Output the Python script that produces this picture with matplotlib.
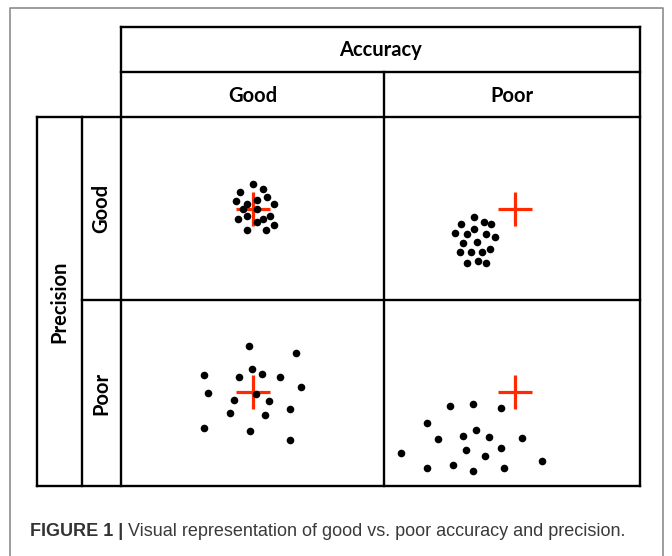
import matplotlib.pyplot as plt
from matplotlib import font_manager

# dot offsets (px) from the target centre, one set per cell
gg_dx = [0, 10, -13, 14, -17, -6, 4, 21, -10, 4, -6, -15, 17, 10, 4, 21, -6, 13]
gg_dy = [-25, -20, -17, -12, -8, -5, -9, -5, 0, 0, 7, 10, 7, 10, 13, 16, 21, 21]

gp_dx = [-41, -54, -31, -24, -60, -48, -41, -29, -20, -52, -38, -55, -44, -33, -25, -48, -37, -29]
gp_dy = [8, 15, 13, 15, 24, 25, 20, 25, 28, 34, 33, 43, 43, 43, 40, 54, 52, 54]

pg_dx = [-4, 43, -49, -14, -1, 9, 27, 48, -45, 3, -19, 16, -23, 12, 37, -49, -3, 37]
pg_dy = [-46, -39, -17, -15, -23, -18, -15, -5, 1, 2, 8, 9, 21, 23, 17, 36, 39, 48]

pp_dx = [-65, -42, -14, -88, -77, -52, -39, -26, 7, -114, -49, -14, -30, 27, -88, -62, -42, -11]
pp_dy = [14, 12, 16, 31, 47, 44, 38, 45, 46, 61, 58, 56, 64, 69, 76, 73, 79, 76]

col_labels = ['Good', 'Poor']
row_labels = ['Good', 'Poor']
caption_bold = 'FIGURE 1 |'
caption_rest = ' Visual representation of good vs. poor accuracy and precision.'

names = [f.name for f in font_manager.fontManager.ttflist]
cap_font = 'Liberation Sans Narrow' if 'Liberation Sans Narrow' in names else 'Liberation Sans'

fig = plt.figure(figsize=(6.72, 5.56), dpi=100)
ax = fig.add_axes([0, 0, 1, 1])
ax.set_xlim(0, 672)
ax.set_ylim(556, 0)
ax.axis('off')

# outer grey frame
ax.plot([10, 10, 663, 663], [560, 8, 8, 560], color='#8c8c8c', lw=1.2)

# table grid
lw = 1.7
k = 'black'
x0, x1, x2, xm, xr = 37, 82, 121, 384, 640
y0, y1, y2, ym, yb = 27, 72, 117, 300, 486
ax.plot([x2, xr], [y0, y0], color=k, lw=lw)
ax.plot([x2, xr], [y1, y1], color=k, lw=lw)
ax.plot([x0, xr], [y2, y2], color=k, lw=lw)
ax.plot([x1, xr], [ym, ym], color=k, lw=lw)
ax.plot([x0, xr], [yb, yb], color=k, lw=lw)
ax.plot([x0, x0], [y2, yb], color=k, lw=lw)
ax.plot([x1, x1], [y2, yb], color=k, lw=lw)
ax.plot([x2, x2], [y0, yb], color=k, lw=lw)
ax.plot([xm, xm], [y1, yb], color=k, lw=lw)
ax.plot([xr, xr], [y0, yb], color=k, lw=lw)

hfont = dict(family='Lato', weight='bold', fontsize=14.5, ha='center', va='center')
ax.text((x2 + xr) / 2, (y0 + y1) / 2 + 1, 'Accuracy', **hfont)
ax.text((x2 + xm) / 2, (y1 + y2) / 2 + 1, col_labels[0], **hfont)
ax.text((xm + xr) / 2, (y1 + y2) / 2 + 1, col_labels[1], **hfont)
ax.text((x0 + x1) / 2, (y2 + yb) / 2, 'Precision', rotation=90, **hfont)
ax.text((x1 + x2) / 2, (y2 + ym) / 2, row_labels[0], rotation=90, **hfont)
ax.text((x1 + x2) / 2, (ym + yb) / 2, row_labels[1], rotation=90, **hfont)

# targets and shots
targets = [(253, 209), (515, 209), (253, 392), (515, 392)]
shots = [(gg_dx, gg_dy), (gp_dx, gp_dy), (pg_dx, pg_dy), (pp_dx, pp_dy)]
for (cx, cy), (dx, dy) in zip(targets, shots):
    ax.plot([cx - 17, cx + 17], [cy, cy], color='#ff2a00', lw=2.3, solid_capstyle='butt', zorder=2)
    ax.plot([cx, cx], [cy - 17, cy + 17], color='#ff2a00', lw=2.3, solid_capstyle='butt', zorder=2)
    ax.scatter([cx + v for v in dx], [cy + v for v in dy], s=30, color='black', zorder=3, linewidths=0)

t1 = ax.text(30, 531, caption_bold, family=cap_font, weight='bold', fontsize=13.0,
             color='#333333', ha='left', va='center')
ax.annotate(caption_rest, xy=(1, 0), xycoords=t1, xytext=(0, 0), textcoords='offset points',
            family=cap_font, fontsize=13.0, color='#3a3a3a', ha='left', va='bottom')

fig.savefig('out.png', dpi=100)
